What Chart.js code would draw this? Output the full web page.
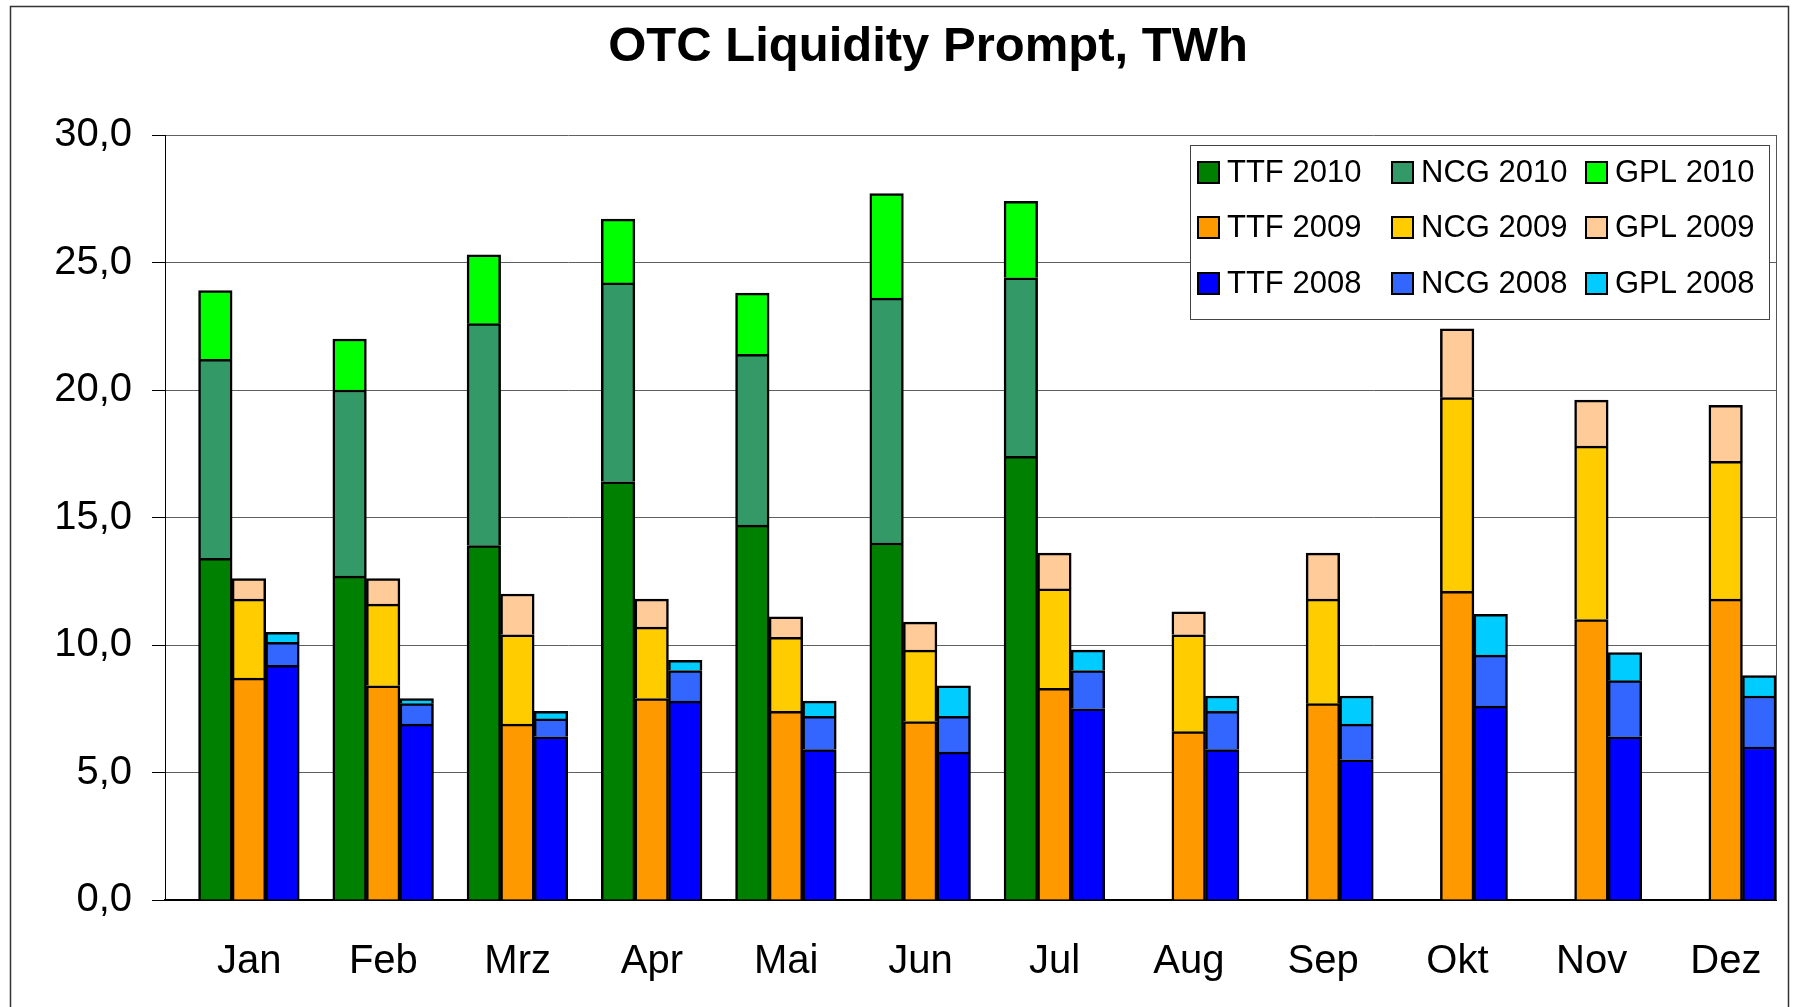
<!DOCTYPE html>
<html>
<head>
<meta charset="utf-8">
<title>OTC Liquidity Prompt</title>
<script src="https://cdn.jsdelivr.net/npm/chart.js@4.4.1/dist/chart.umd.min.js"></script>
<style>
  html, body { margin: 0; padding: 0; background: #fff; }
  canvas { display: block; }
</style>
</head>
<body>
<canvas id="otcChart" width="1794" height="1007"></canvas>
<script>
// months and TWh values (null = no 2010 data yet)
const months = ["Jan", "Feb", "Mrz", "Apr", "Mai", "Jun", "Jul", "Aug", "Sep", "Okt", "Nov", "Dez"];

const ttf2010 = [13.4, 12.7, 13.9, 16.4, 14.7, 14.0, 17.4, null, null, null, null, null];
const ncg2010 = [7.8, 7.3, 8.7, 7.8, 6.7, 9.6, 7.0, null, null, null, null, null];
const gpl2010 = [2.7, 2.0, 2.7, 2.5, 2.4, 4.1, 3.0, null, null, null, null, null];

const ttf2009 = [8.7, 8.4, 6.9, 7.9, 7.4, 7.0, 8.3, 6.6, 7.7, 12.1, 11.0, 11.8];
const ncg2009 = [3.1, 3.2, 3.5, 2.8, 2.9, 2.8, 3.9, 3.8, 4.1, 7.6, 6.8, 5.4];
const gpl2009 = [0.8, 1.0, 1.6, 1.1, 0.8, 1.1, 1.4, 0.9, 1.8, 2.7, 1.8, 2.2];

const ttf2008 = [9.2, 6.9, 6.4, 7.8, 5.9, 5.8, 7.5, 5.9, 5.5, 7.6, 6.4, 6.0];
const ncg2008 = [0.9, 0.8, 0.7, 1.2, 1.3, 1.4, 1.5, 1.5, 1.4, 2.0, 2.2, 2.0];
const gpl2008 = [0.4, 0.2, 0.3, 0.4, 0.6, 1.2, 0.8, 0.6, 1.1, 1.6, 1.1, 0.8];

const yTicks = [0, 5, 10, 15, 20, 25, 30];
const chartTitle = "OTC Liquidity Prompt, TWh";

const FONT = "'Liberation Sans', Arial, sans-serif";
Chart.defaults.font.family = FONT;
Chart.defaults.color = "#000";

function bar(label, data, color, stack) {
    return {
        label: label,
        data: data,
        stack: stack,
        backgroundColor: color,
        borderColor: "#000",
        borderWidth: 2.5
    };
}

// title, frame and the 3-column legend inside the plot, like the original
const excelLook = {
    id: "excelLook",
    afterDraw(chart) {
        const ctx = chart.ctx;
        const area = chart.chartArea;
        ctx.save();

        // title (sits a bit right of the canvas centre in the original)
        ctx.fillStyle = "#000";
        ctx.font = "bold 49px " + FONT;
        ctx.textAlign = "center";
        ctx.textBaseline = "middle";
        ctx.fillText(chartTitle, 928, 47);

        // plot area right edge
        ctx.strokeStyle = "#555";
        ctx.lineWidth = 1;
        ctx.beginPath();
        ctx.moveTo(area.right + 0.5, area.top);
        ctx.lineTo(area.right + 0.5, area.bottom);
        ctx.stroke();

        // outer chart border (runs off the bottom edge)
        ctx.strokeStyle = "#333";
        ctx.lineWidth = 1.5;
        ctx.strokeRect(10.5, 6.5, 1778, 1100);

        const items = chart.data.datasets.filter(d => d.stack !== "gap");
        const colX = [1198, 1392, 1586];
        const rowY = [172, 227, 283];

        ctx.fillStyle = "#fff";
        ctx.fillRect(1190, 145, 579, 174);
        ctx.strokeStyle = "#444";
        ctx.lineWidth = 1;
        ctx.strokeRect(1190.5, 145.5, 579, 174);

        ctx.font = "31px " + FONT;
        ctx.textAlign = "left";
        items.forEach((d, i) => {
            const x = colX[i % 3];
            const y = rowY[Math.floor(i / 3)];
            ctx.fillStyle = d.backgroundColor;
            ctx.fillRect(x, y - 10, 21, 21);
            ctx.strokeStyle = "#000";
            ctx.lineWidth = 2;
            ctx.strokeRect(x, y - 10, 21, 21);
            ctx.fillStyle = "#000";
            ctx.fillText(d.label, x + 29, y + 1);
        });
        ctx.restore();
    }
};

new Chart(document.getElementById("otcChart"), {
    type: "bar",
    data: {
        labels: months,
        datasets: [
            // empty slot that leaves the gap before each month's three columns
            { label: "", data: [], stack: "gap", backgroundColor: "rgba(0,0,0,0)", borderWidth: 0 },
            bar("TTF 2010", ttf2010, "#008000", "2010"),
            bar("NCG 2010", ncg2010, "#339966", "2010"),
            bar("GPL 2010", gpl2010, "#00FF00", "2010"),
            bar("TTF 2009", ttf2009, "#FF9900", "2009"),
            bar("NCG 2009", ncg2009, "#FFCC00", "2009"),
            bar("GPL 2009", gpl2009, "#FFCC99", "2009"),
            bar("TTF 2008", ttf2008, "#0000FF", "2008"),
            bar("NCG 2008", ncg2008, "#3366FF", "2008"),
            bar("GPL 2008", gpl2008, "#00CCFF", "2008")
        ]
    },
    options: {
        responsive: false,
        animation: false,
        layout: { padding: { left: 20, right: 18, top: 135, bottom: 0 } },
        datasets: {
            bar: { categoryPercentage: 1.0, barPercentage: 1.0 }
        },
        plugins: {
            legend: { display: false },
            tooltip: { enabled: false },
            title: { display: false }
        },
        scales: {
            x: {
                stacked: true,
                grid: { display: false, drawTicks: false },
                border: { display: true, color: "#000", width: 2 },
                ticks: {
                    font: { size: 40 },
                    padding: 38,
                    labelOffset: 17,
                    maxRotation: 0,
                    autoSkip: false
                },
                afterFit(scale) { scale.height = 107; }
            },
            y: {
                stacked: true,
                min: yTicks[0],
                max: yTicks[yTicks.length - 1],
                afterBuildTicks(scale) { scale.ticks = yTicks.map(v => ({ value: v })); },
                grid: { color: "#606060", lineWidth: 1, tickLength: 13, tickColor: "#000" },
                border: { display: true, color: "#000", width: 1 },
                ticks: {
                    font: { size: 40 },
                    padding: 20,
                    callback: v => v.toFixed(1).replace(".", ",")
                },
                afterFit(scale) { scale.width = 145; }
            }
        }
    },
    plugins: [excelLook]
});
</script>
</body>
</html>
